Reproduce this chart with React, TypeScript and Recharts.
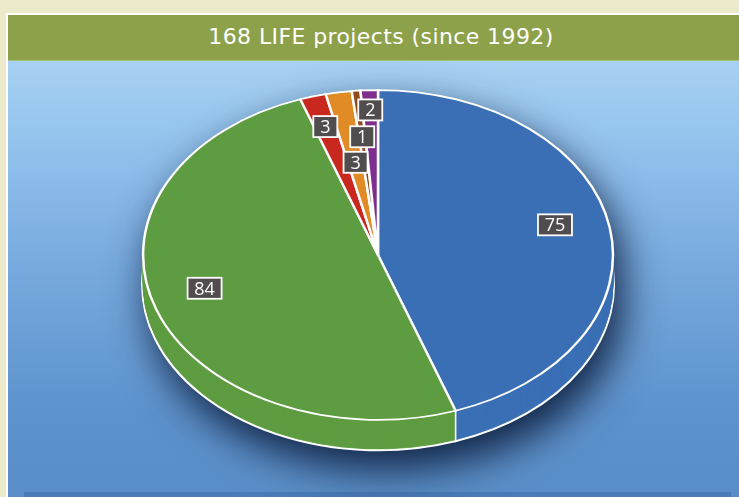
import { PieChart, Pie, Cell } from "recharts";

const SLICE_NAMES = ["Blue", "Green", "Red", "Orange", "Brown", "Purple"];
const SLICE_VALUES = [75, 84, 3, 3, 1, 2];
const SLICE_COLORS = ["#3A6FB5", "#5E9C41", "#C9281F", "#E08B26", "#8E4B1C", "#7E2F8E"];
// where each value box sits: fraction of radius and angle nudge (deg)
const LABEL_RADIUS = [0.775, 0.765, 0.81, 0.57, 0.72, 0.88];
const LABEL_NUDGE = [4, -4, 0, 0, 0, 0];

const TITLE = "168 LIFE projects (since 1992)";

const data = SLICE_NAMES.map((name, i) => ({ name, value: SLICE_VALUES[i] }));

const W = 739;
const H = 497;
const K = 0.702; // vertical squash, turns the circle into the tilted ellipse
const CX = 378;
const CY = 255 / K;
const R = 235;
const DEPTH = 30; // thickness of the pie on screen, px
const RAD = Math.PI / 180;

const layers: number[] = [];
for (let d = DEPTH; d >= 1; d--) layers.push(d);

function renderLabel(props: any) {
  const { cx, cy, outerRadius, midAngle, endAngle, index, value } = props;
  const r = outerRadius * LABEL_RADIUS[index];
  const a = (midAngle + LABEL_NUDGE[index]) * RAD;
  const x = cx + r * Math.cos(a);
  const y = cy - r * Math.sin(a);
  const text = String(value);
  const w = text.length * 10 + 14;
  const h = 21;
  const ex = cx + outerRadius * Math.cos(endAngle * RAD);
  const ey = cy - outerRadius * Math.sin(endAngle * RAD);
  return (
    <g key={`lbl-${index}`}>
      {index === 0 && (
        <line x1={ex} y1={ey} x2={ex} y2={ey + DEPTH / K} stroke="#fff" strokeWidth={1.6} />
      )}
      <g transform={`translate(${x},${y}) scale(1,${1 / K})`}>
        <rect x={-w / 2} y={-h / 2} width={w} height={h} fill="#514C4D" stroke="#fff" strokeWidth={1.8} />
        <text
          x={0}
          y={6.5}
          textAnchor="middle"
          fill="#fff"
          fontSize={18}
          fontFamily="'Open Sans', sans-serif"
        >
          {text}
        </text>
      </g>
    </g>
  );
}

export default function App() {
  return (
    <div
      style={{
        position: "absolute",
        left: 0,
        top: 0,
        width: W,
        height: H,
        overflow: "hidden",
        background: "#ECEACB",
      }}
    >
      <div
        style={{
          position: "absolute",
          left: 6,
          top: 13,
          width: W,
          height: H,
          borderTop: "2px solid #fff",
          borderLeft: "2px solid #fff",
          background:
            "linear-gradient(180deg, #B2D9F5 0%, #97C6EE 22%, #78AADF 50%, #5E92CC 80%, #5A8DC6 100%)",
        }}
      >
        <div
          style={{
            height: 45,
            background: "#8DA14A",
            color: "#fff",
            fontFamily: "'DejaVu Sans', sans-serif",
            fontSize: 22,
            letterSpacing: 0.4,
            lineHeight: "44px",
            textAlign: "center",
            width: 746,
            borderBottom: "1px solid #A9C27A",
          }}
        >
          {TITLE}
        </div>
      </div>
      <div
        style={{
          position: "absolute",
          left: 24,
          top: 492,
          width: 707,
          height: 5,
          background: "#4A7DB8",
        }}
      />
      <div
        style={{
          position: "absolute",
          left: 0,
          top: 0,
          width: W,
          height: H,
          filter: "drop-shadow(8px 18px 20px rgba(10,26,56,0.92))",
        }}
      >
        <div style={{ transform: `scaleY(${K})`, transformOrigin: "0 0", width: W, height: H / K }}>
          <PieChart width={W} height={H / K} margin={{ top: 0, right: 0, bottom: 0, left: 0 }}>
            {layers.map((d) => (
              <Pie
                key={`side-${d}`}
                data={data}
                dataKey="value"
                nameKey="name"
                cx={CX}
                cy={CY + d / K}
                outerRadius={R}
                startAngle={90}
                endAngle={-270}
                isAnimationActive={false}
                strokeWidth={d === DEPTH ? 4 : 1}
              >
                {SLICE_COLORS.map((c, i) => (
                  <Cell key={i} fill={c} stroke={d === DEPTH ? "#fff" : c} />
                ))}
              </Pie>
            ))}
            <Pie
              data={data}
              dataKey="value"
              nameKey="name"
              cx={CX}
              cy={CY}
              outerRadius={R}
              startAngle={90}
              endAngle={-270}
              isAnimationActive={false}
              stroke="#fff"
              strokeWidth={2.5}
              label={renderLabel}
              labelLine={false}
            >
              {SLICE_COLORS.map((c, i) => (
                <Cell key={i} fill={c} stroke="#fff" />
              ))}
            </Pie>
          </PieChart>
        </div>
      </div>
    </div>
  );
}
